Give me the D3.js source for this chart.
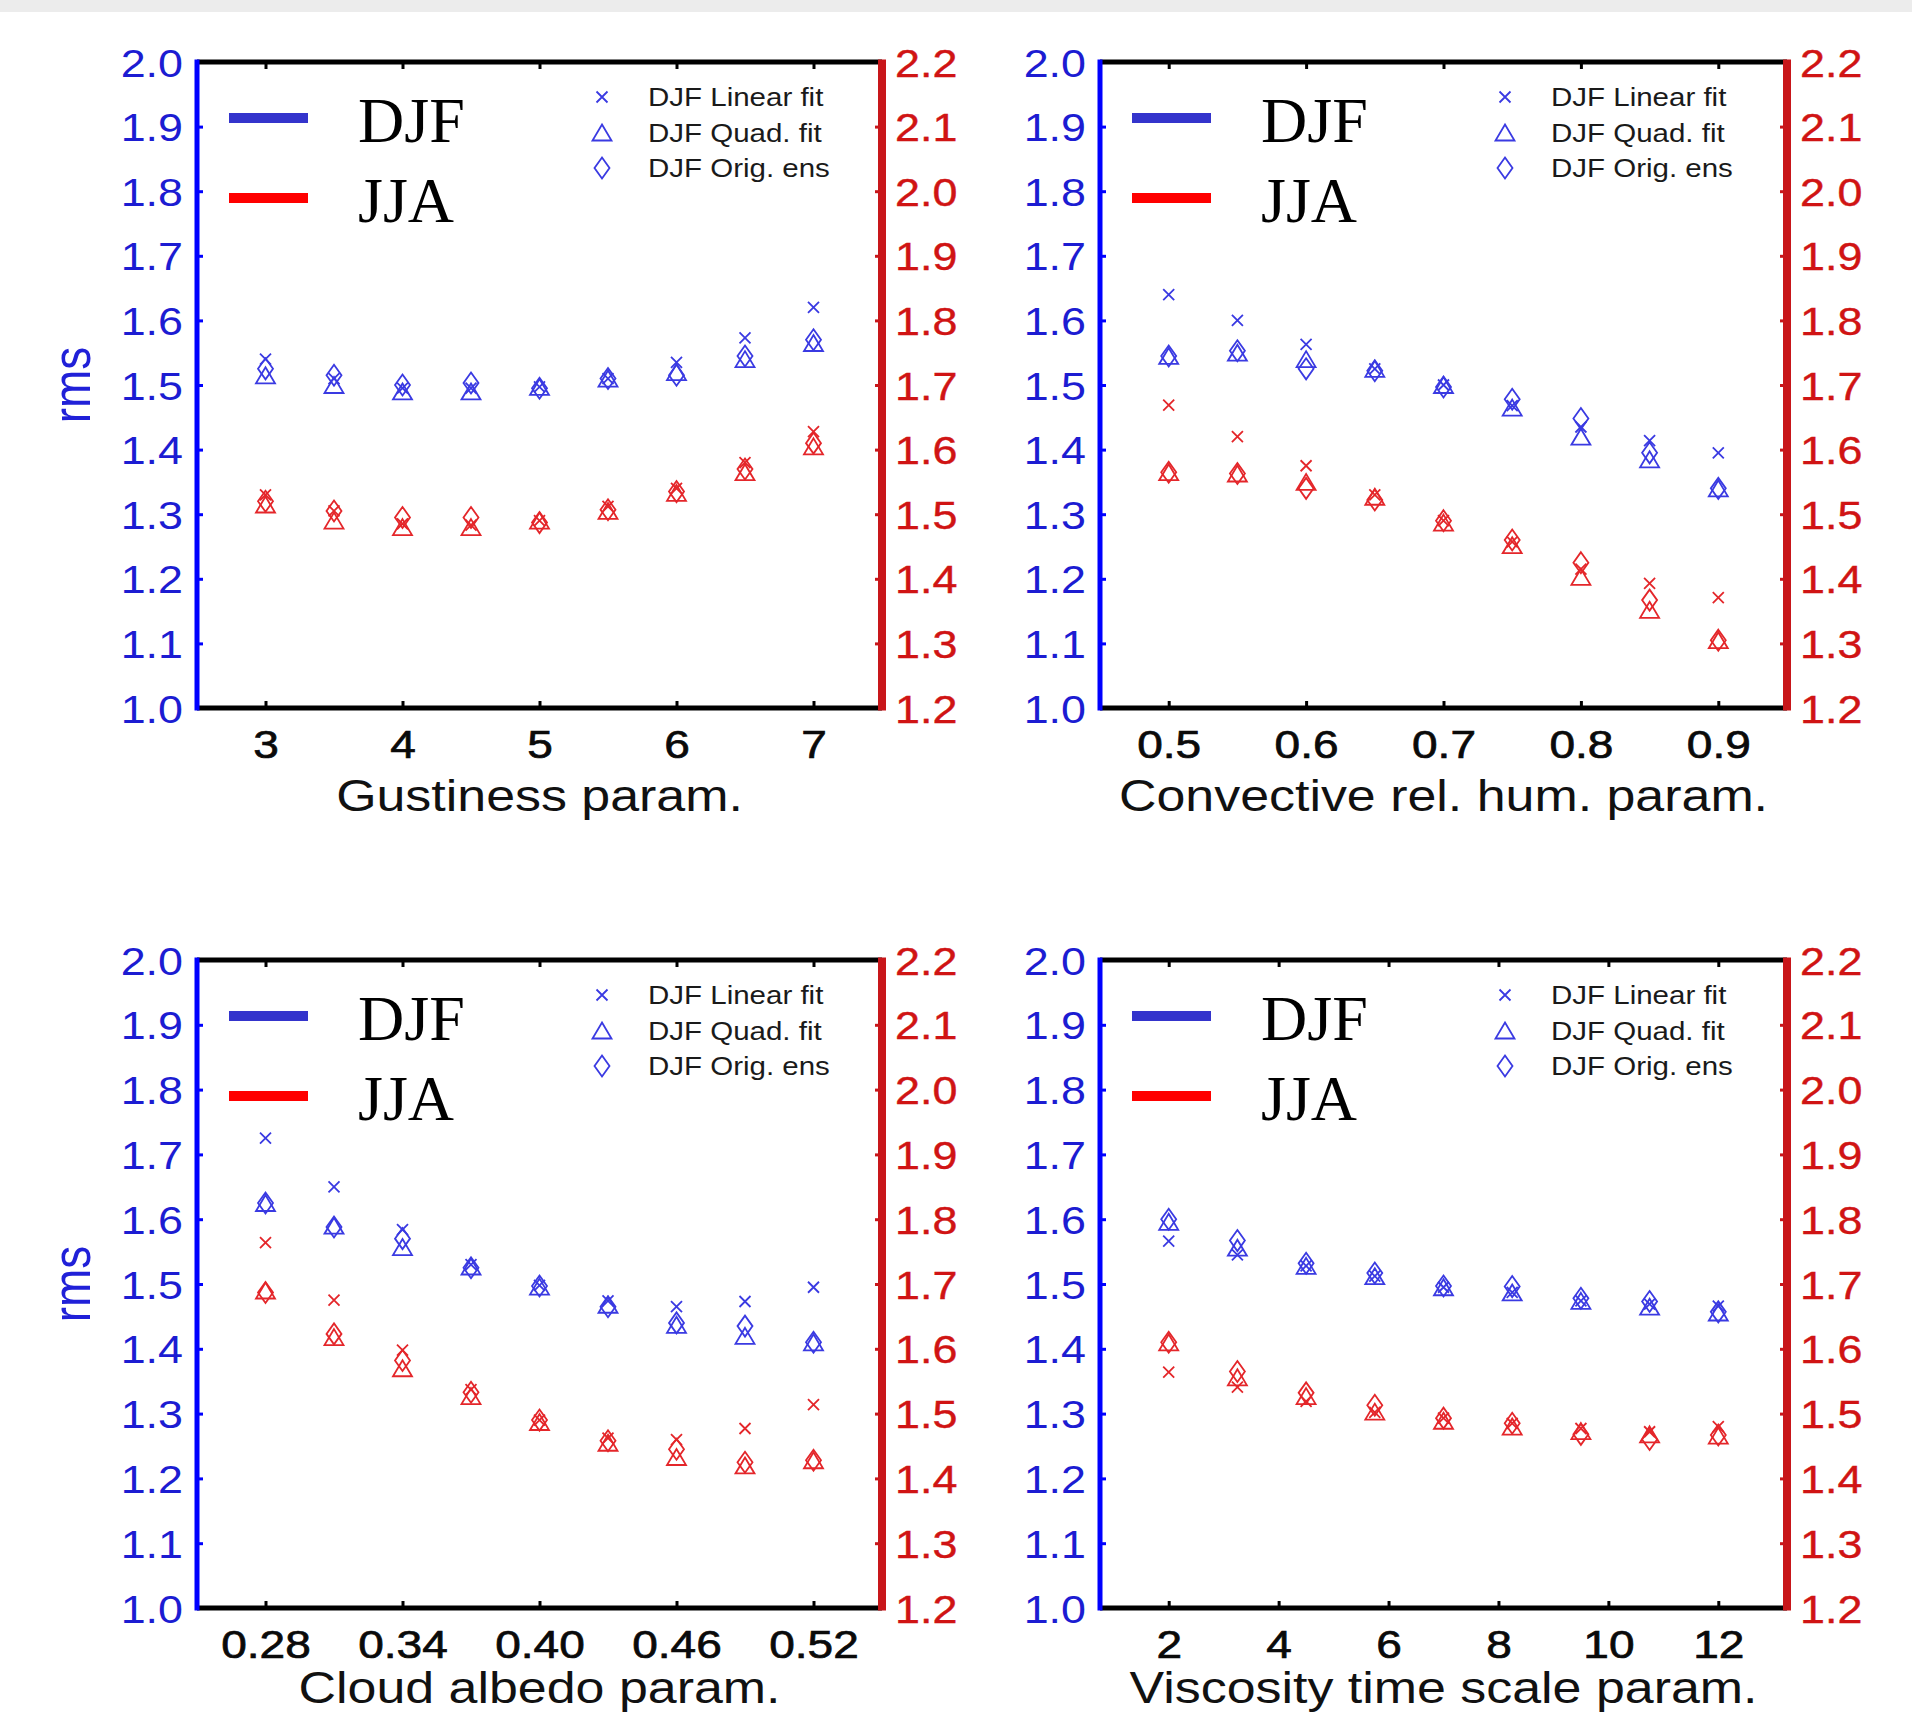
<!DOCTYPE html>
<html><head><meta charset="utf-8">
<script src="https://cdn.jsdelivr.net/npm/d3@7"></script>
<style>body{margin:0;background:#fff}svg{display:block}</style>
</head><body>
<svg id="c" width="1912" height="1715"></svg>
<script>
// ---------- data ----------
const leftTicks  = [1.0,1.1,1.2,1.3,1.4,1.5,1.6,1.7,1.8,1.9,2.0];
const rightTicks = [1.2,1.3,1.4,1.5,1.6,1.7,1.8,1.9,2.0,2.1,2.2];
const legendSeasons = ["DJF","JJA"];
const legendMarkers = ["DJF Linear fit","DJF Quad. fit","DJF Orig. ens"];

const gustX = [3,3.5,4,4.5,5,5.5,6,6.5,7];
const gustTicks = [3,4,5,6,7];
const gustDJFLinear = [1.54,1.51,1.495,1.495,1.497,1.51,1.535,1.573,1.62];
const gustDJFQuad   = [1.515,1.50,1.49,1.49,1.497,1.51,1.52,1.54,1.565];
const gustDJFOrig   = [1.525,1.515,1.50,1.503,1.495,1.51,1.515,1.545,1.57];
const gustJJALinear = [1.53,1.505,1.485,1.483,1.49,1.512,1.54,1.58,1.628];
const gustJJAQuad   = [1.515,1.49,1.48,1.48,1.49,1.505,1.533,1.565,1.605];
const gustJJAOrig   = [1.52,1.505,1.495,1.495,1.487,1.507,1.535,1.57,1.61];

const convX = [0.5,0.55,0.6,0.65,0.7,0.75,0.8,0.85,0.9];
const convTicks = [0.5,0.6,0.7,0.8,0.9];
const convDJFLinear = [1.64,1.60,1.563,1.525,1.50,1.468,1.435,1.414,1.395];
const convDJFQuad   = [1.545,1.55,1.54,1.525,1.50,1.465,1.42,1.385,1.34];
const convDJFOrig   = [1.545,1.553,1.525,1.522,1.497,1.478,1.448,1.395,1.34];
const convJJALinear = [1.669,1.62,1.575,1.53,1.49,1.457,1.415,1.393,1.371];
const convJJAQuad   = [1.565,1.563,1.55,1.527,1.487,1.452,1.403,1.352,1.305];
const convJJAOrig   = [1.565,1.563,1.54,1.522,1.49,1.46,1.425,1.367,1.305];

const albX = [0.28,0.31,0.34,0.37,0.40,0.43,0.46,0.49,0.52];
const albTicks = [0.28,0.34,0.40,0.46,0.52];
const albDJFLinear = [1.725,1.65,1.584,1.53,1.498,1.474,1.465,1.473,1.495];
const albDJFQuad   = [1.625,1.59,1.557,1.527,1.496,1.468,1.437,1.42,1.41];
const albDJFOrig   = [1.625,1.588,1.57,1.525,1.497,1.465,1.44,1.435,1.41];
const albJJALinear = [1.764,1.675,1.598,1.537,1.49,1.462,1.46,1.477,1.514];
const albJJAQuad   = [1.69,1.618,1.57,1.527,1.487,1.455,1.433,1.42,1.428];
const albJJAOrig   = [1.687,1.623,1.582,1.533,1.49,1.458,1.445,1.425,1.428];

const viscX = [2,3.25,4.5,5.75,7,8.25,9.5,10.75,12];
const viscTicks = [2,4,6,8,10,12];
const viscDJFLinear = [1.566,1.545,1.528,1.512,1.495,1.487,1.474,1.469,1.466];
const viscDJFQuad   = [1.596,1.556,1.528,1.512,1.495,1.487,1.474,1.465,1.456];
const viscDJFOrig   = [1.60,1.567,1.532,1.517,1.497,1.496,1.478,1.473,1.457];
const viscJJALinear = [1.564,1.541,1.519,1.502,1.493,1.485,1.477,1.472,1.48];
const viscJJAQuad   = [1.61,1.556,1.527,1.503,1.489,1.48,1.473,1.468,1.466];
const viscJJAOrig   = [1.61,1.565,1.532,1.513,1.493,1.485,1.468,1.46,1.467];

// ---------- layout / style ----------
const SANS = "'Liberation Sans', Arial, Helvetica, sans-serif";
const SERIF = "'Liberation Serif', 'Times New Roman', serif";
const SX = 1.18;               // horizontal stretch of the original figure
const BLUE_AX = "#0000ff", RED_AX = "#c8161a";
const BLUE_TXT = "#1c1cd2", RED_TXT = "#d01414";
const BLUE_MK = "#3a3ae2", RED_MK = "#e4262a";

const panels = [
  {x: gustX, ticks: gustTicks, fmt: d3.format("d"),   dom: [2.5, 7.5],   label: "Gustiness param.",
   box: [197, 882, 62, 708], rms: true,
   djf: [gustDJFLinear, gustDJFQuad, gustDJFOrig], jja: [gustJJALinear, gustJJAQuad, gustJJAOrig]},
  {x: convX, ticks: convTicks, fmt: d3.format(".1f"), dom: [0.45, 0.95], label: "Convective rel. hum. param.",
   box: [1100, 1787, 62, 708], rms: false,
   djf: [convDJFLinear, convDJFQuad, convDJFOrig], jja: [convJJALinear, convJJAQuad, convJJAOrig]},
  {x: albX, ticks: albTicks, fmt: d3.format(".2f"),   dom: [0.25, 0.55], label: "Cloud albedo param.",
   box: [197, 882, 960, 1608], rms: true,
   djf: [albDJFLinear, albDJFQuad, albDJFOrig], jja: [albJJALinear, albJJAQuad, albJJAOrig]},
  {x: viscX, ticks: viscTicks, fmt: d3.format("d"),   dom: [0.75, 13.25], label: "Viscosity time scale param.",
   box: [1100, 1787, 960, 1608], rms: false,
   djf: [viscDJFLinear, viscDJFQuad, viscDJFOrig], jja: [viscJJALinear, viscJJAQuad, viscJJAOrig]}
];

const svg = d3.select("#c");
svg.append("rect").attr("x",0).attr("y",0).attr("width",1912).attr("height",1715).attr("fill","#fff");
svg.append("rect").attr("x",0).attr("y",0).attr("width",1912).attr("height",12).attr("fill","#ececec");

// marker shapes
function markerPath(type, cx, cy) {
  if (type === 0) { const s = 5.5;
    return `M${cx-s},${cy-s}L${cx+s},${cy+s}M${cx-s},${cy+s}L${cx+s},${cy-s}`; }
  if (type === 1) { const w = 9.5, h = 8;
    return `M${cx},${cy-h}L${cx+w},${cy+h}L${cx-w},${cy+h}Z`; }
  const w = 7.5, h = 10.5;
  return `M${cx},${cy-h}L${cx+w},${cy}L${cx},${cy+h}L${cx-w},${cy}Z`;
}

panels.forEach(p => {
  const [x0, x1, y0, y1] = p.box;
  const xs = d3.scaleLinear().domain(p.dom).range([x0, x1]);
  const yL = d3.scaleLinear().domain([1.0, 2.0]).range([y1, y0]);
  const yR = d3.scaleLinear().domain([1.2, 2.2]).range([y1, y0]);
  const g = svg.append("g");

  // bottom axis
  const gb = g.append("g").attr("transform", `translate(0,${y1})`)
    .call(d3.axisBottom(xs).tickValues(p.ticks).tickFormat(p.fmt).tickSizeInner(-7).tickSizeOuter(0).tickPadding(22));
  gb.select(".domain").remove();
  gb.selectAll("line").attr("stroke", "#000").attr("stroke-width", 3);
  gb.selectAll("text").attr("font-family", SANS).attr("font-size", 39).attr("fill", "#0a0a0a")
    .attr("stroke", "#0a0a0a").attr("stroke-width", 0.7)
    .attr("transform", `scale(${SX},1)`);

  // top ticks
  const gt = g.append("g").attr("transform", `translate(0,${y0})`)
    .call(d3.axisTop(xs).tickValues(p.ticks).tickFormat("").tickSizeInner(-7).tickSizeOuter(0));
  gt.select(".domain").remove();
  gt.selectAll("line").attr("stroke", "#000").attr("stroke-width", 3);

  // left axis
  const gl = g.append("g").attr("transform", `translate(${x0},0)`)
    .call(d3.axisLeft(yL).tickValues(leftTicks).tickFormat(d3.format(".1f")).tickSizeInner(-6).tickSizeOuter(0).tickPadding(14));
  gl.select(".domain").remove();
  gl.selectAll("line").attr("stroke", BLUE_AX).attr("stroke-width", 3);
  gl.selectAll("text").attr("font-family", SANS).attr("font-size", 38).attr("fill", BLUE_TXT)
    .attr("x", -14 / SX).attr("transform", `translate(0,2) scale(${SX},1)`);

  // right axis
  const gr = g.append("g").attr("transform", `translate(${x1},0)`)
    .call(d3.axisRight(yR).tickValues(rightTicks).tickFormat(d3.format(".1f")).tickSizeInner(-7).tickSizeOuter(0).tickPadding(12));
  gr.select(".domain").remove();
  gr.selectAll("line").attr("stroke", RED_AX).attr("stroke-width", 3);
  gr.selectAll("text").attr("font-family", SANS).attr("font-size", 38).attr("fill", RED_TXT)
    .attr("stroke", RED_TXT).attr("stroke-width", 0.4)
    .attr("x", 13 / SX).attr("transform", `translate(0,2) scale(${SX},1)`);

  // frame
  g.append("line").attr("x1", x0).attr("x2", x1).attr("y1", y0).attr("y2", y0).attr("stroke", "#000").attr("stroke-width", 5);
  g.append("line").attr("x1", x0).attr("x2", x1).attr("y1", y1).attr("y2", y1).attr("stroke", "#000").attr("stroke-width", 5);
  g.append("line").attr("x1", x0).attr("x2", x0).attr("y1", y0 - 2.5).attr("y2", y1 + 2.5).attr("stroke", BLUE_AX).attr("stroke-width", 5);
  g.append("line").attr("x1", x1).attr("x2", x1).attr("y1", y0 - 2.5).attr("y2", y1 + 2.5).attr("stroke", RED_AX).attr("stroke-width", 8);

  // x label (kept inside the page so descenders are not clipped)
  const labY = Math.min(y1 + 103, 1703);
  g.append("text").attr("font-family", SANS).attr("font-size", 44).attr("fill", "#111")
    .attr("text-anchor", "middle")
    .attr("transform", `translate(${(x0 + x1) / 2},${labY}) scale(${SX},1)`)
    .text(p.label);

  if (p.rms) {
    g.append("text").attr("font-family", SANS).attr("font-size", 46).attr("fill", "#2020d8")
      .attr("text-anchor", "middle")
      .attr("transform", `translate(90,${(y0 + y1) / 2}) scale(${SX},1) rotate(-90)`)
      .text("rms");
  }

  // data markers
  const series = [];
  p.djf.forEach((arr, k) => series.push({vals: arr, type: k, col: BLUE_MK, sc: yL}));
  p.jja.forEach((arr, k) => series.push({vals: arr, type: k, col: RED_MK, sc: yR}));
  series.forEach(s => {
    g.append("g").selectAll("path").data(s.vals).join("path")
      .attr("d", (v, i) => markerPath(s.type, xs(p.x[i]), s.sc(v)))
      .attr("fill", "none").attr("stroke", s.col).attr("stroke-width", 1.8);
  });

  // season legend
  const legCols = ["#3434cc", "#ff0000"];
  legendSeasons.forEach((name, k) => {
    const ly = y0 + 56 + k * 80;
    g.append("line").attr("x1", x0 + 32).attr("x2", x0 + 111).attr("y1", ly).attr("y2", ly)
      .attr("stroke", legCols[k]).attr("stroke-width", 10);
    g.append("text").attr("x", x0 + 161).attr("y", ly + 24).attr("font-family", SERIF)
      .attr("font-size", 64).attr("fill", "#000").text(name);
  });

  // marker legend
  legendMarkers.forEach((name, k) => {
    const ly = y0 + 35 + k * 35.5;
    g.append("path").attr("d", markerPath(k, x0 + 405, ly)).attr("fill", "none")
      .attr("stroke", BLUE_MK).attr("stroke-width", 1.8);
    g.append("text").attr("font-family", SANS).attr("font-size", 25).attr("fill", "#1a1a1a")
      .attr("transform", `translate(${x0 + 451},${ly + 9}) scale(${SX},1)`).text(name);
  });
});
</script>
</body></html>
